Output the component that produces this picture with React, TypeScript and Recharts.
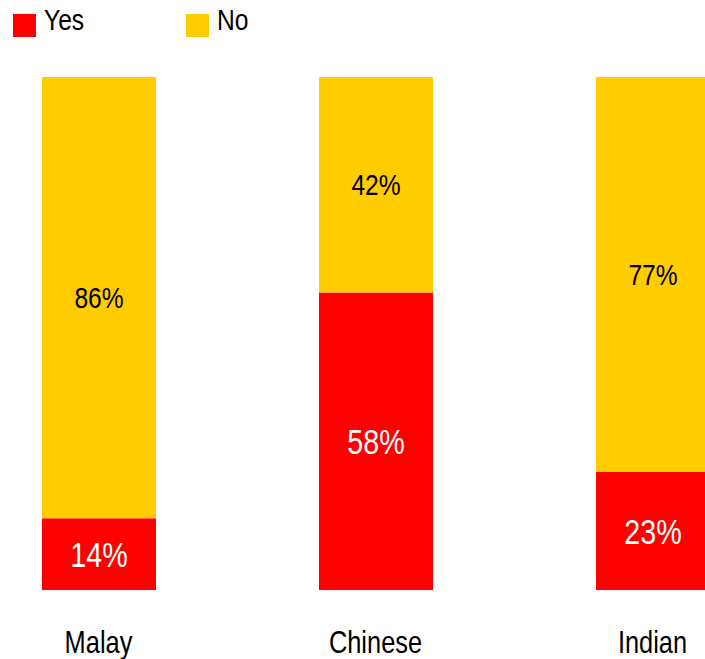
import React from 'react';
import { BarChart, Bar, XAxis, YAxis, LabelList } from 'recharts';

const categories = ['Malay', 'Chinese', 'Indian'];
const yesValues = [14, 58, 23];
const noValues = [86, 42, 77];

const data = categories.map((name, i) => ({ name, yes: yesValues[i], no: noValues[i] }));

const FONT = "'Liberation Sans', Arial, sans-serif";
const NARROW = 0.82;

const legendItems = [
  { label: 'Yes', color: '#ff0000', left: 13 },
  { label: 'No', color: '#ffcc00', left: 186 },
];

function NarrowText({ x, y, text, fill, size = 30 }: { x: number; y: number; text: string; fill: string; size?: number }) {
  return (
    <g transform={`translate(${x},${y}) scale(${NARROW},1)`}>
      <text x={0} y={0} textAnchor="middle" fill={fill} fontSize={size} fontFamily={FONT}>
        {text}
      </text>
    </g>
  );
}

function CategoryTick(props: any) {
  const { x, y, payload } = props;
  return <NarrowText x={x} y={y + 61} text={payload.value} fill="#000" size={31} />;
}

function makeLabel(fill: string, size: number) {
  return (props: any) => {
    const { x, y, width, height, value } = props;
    const cx = Number(x) + Number(width) / 2;
    const cy = Number(y) + Number(height) / 2 + size * 0.358;
    return <NarrowText x={cx} y={cy} text={`${value}%`} fill={fill} size={size} />;
  };
}

export default function App() {
  return (
    <div style={{ position: 'absolute', left: 0, top: 0, width: 705, height: 659, overflow: 'hidden', background: '#fff' }}>
      {legendItems.map((item) => (
        <div key={item.label} style={{ position: 'absolute', left: item.left, top: 0 }}>
          <span style={{ position: 'absolute', left: 0, top: 14, width: 23, height: 23, background: item.color }} />
          <span
            style={{
              position: 'absolute',
              left: 31,
              top: 3,
              fontFamily: FONT,
              fontSize: 30,
              lineHeight: '34px',
              color: '#000',
              transform: `scaleX(${NARROW})`,
              transformOrigin: 'left',
              whiteSpace: 'nowrap',
            }}
          >
            {item.label}
          </span>
        </div>
      ))}
      <div style={{ position: 'absolute', left: -40, top: 0 }}>
        <BarChart width={831} height={659} data={data} margin={{ top: 77, right: 0, bottom: 0, left: 0 }} barSize={114}>
          <XAxis
            dataKey="name"
            axisLine={false}
            tickLine={false}
            tickSize={0}
            height={69}
            tick={<CategoryTick />}
            interval={0}
          />
          <YAxis hide domain={[0, 100]} />
          <Bar dataKey="yes" stackId="a" fill="#ff0000" isAnimationActive={false}>
            <LabelList dataKey="yes" content={makeLabel('#fff', 35)} />
          </Bar>
          <Bar dataKey="no" stackId="a" fill="#ffcc00" isAnimationActive={false}>
            <LabelList dataKey="no" content={makeLabel('#000', 30)} />
          </Bar>
        </BarChart>
      </div>
    </div>
  );
}
